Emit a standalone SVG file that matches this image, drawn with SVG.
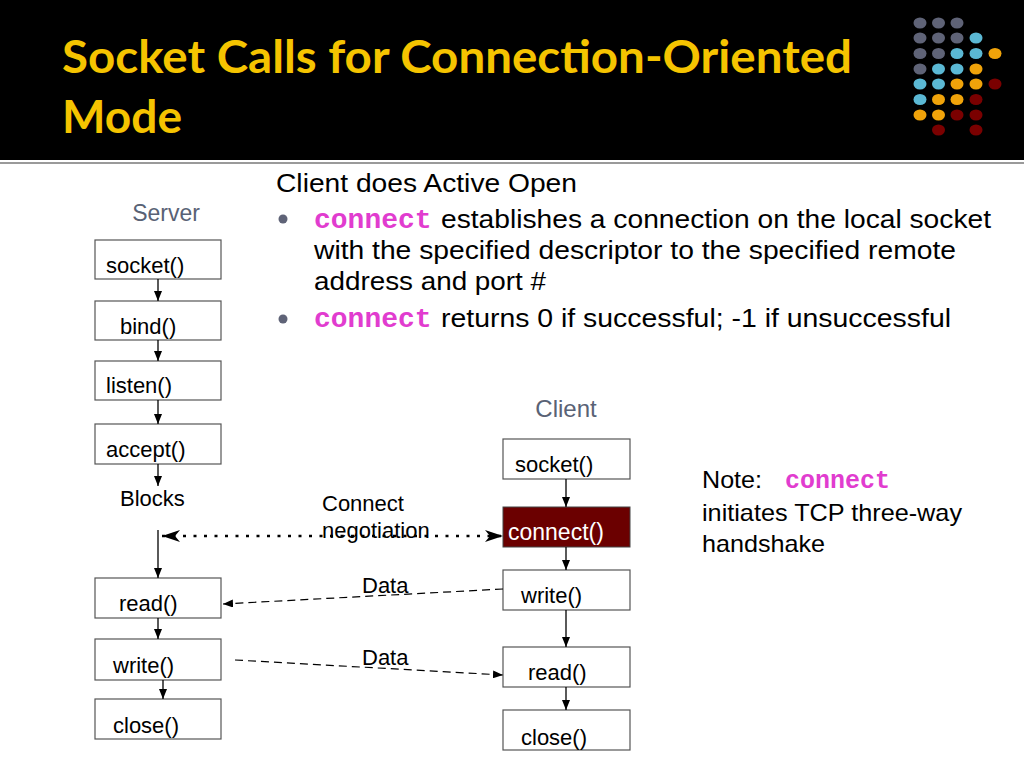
<svg xmlns="http://www.w3.org/2000/svg" width="1024" height="768" viewBox="0 0 1024 768">
<style>
.t{font-family:"Liberation Sans",Arial,sans-serif;fill:#000}
.box{fill:#fff;stroke:#555;stroke-width:1.2}
.lbl{font-family:"Liberation Sans",Arial,sans-serif;font-size:22px;fill:#000}
.mono{font-family:"Liberation Mono","Courier New",monospace;font-weight:bold;fill:#e13ccf}
.solid{stroke:#000;stroke-width:1.3;fill:none;marker-end:url(#ah)}
.dash{stroke:#000;stroke-width:1.2;fill:none;stroke-dasharray:8 5;marker-end:url(#ah)}
.dot{stroke:#000;stroke-width:2.6;fill:none;stroke-dasharray:3 7.5}
.title{font-family:Lato,"Open Sans",sans-serif;font-weight:bold;font-size:46px;fill:#f5c400}
</style>
<defs>
<marker id="ah" markerUnits="userSpaceOnUse" markerWidth="10" markerHeight="8" refX="10" refY="4" orient="auto"><path d="M0,0 L10,4 L0,8 z" fill="#000"/></marker>
<marker id="ab" markerUnits="userSpaceOnUse" markerWidth="18" markerHeight="12" refX="18" refY="6" orient="auto"><path d="M0,0 L18,6 L0,12 L5,6 z" fill="#000"/></marker>
<marker id="abs" markerUnits="userSpaceOnUse" markerWidth="18" markerHeight="12" refX="18" refY="6" orient="auto-start-reverse"><path d="M0,0 L18,6 L0,12 L5,6 z" fill="#000"/></marker>
</defs>
<rect width="1024" height="768" fill="#fff"/>
<g id="header">
<rect x="0" y="0" width="1024" height="160" fill="#000"/>
<line x1="0" y1="163" x2="1024" y2="163" stroke="#9a9a9a" stroke-width="2"/>
<text class="title" x="62" y="73" textLength="790" lengthAdjust="spacingAndGlyphs">Socket Calls for Connection-Oriented</text>
<text class="title" x="62" y="133" textLength="120" lengthAdjust="spacingAndGlyphs">Mode</text>
</g>
<g id="dots">
<g fill="#5f6377">
<ellipse cx="920" cy="23" rx="6.5" ry="5.5"/><ellipse cx="938.5" cy="23" rx="6.5" ry="5.5"/><ellipse cx="957" cy="23" rx="6.5" ry="5.5"/>
<ellipse cx="920" cy="38" rx="6.5" ry="5.5"/><ellipse cx="938.5" cy="38" rx="6.5" ry="5.5"/><ellipse cx="957" cy="38" rx="6.5" ry="5.5"/>
<ellipse cx="920" cy="53.5" rx="6.5" ry="5.5"/><ellipse cx="938.5" cy="53.5" rx="6.5" ry="5.5"/>
<ellipse cx="920" cy="69" rx="6.5" ry="5.5"/>
</g>
<g fill="#5bb8d4">
<ellipse cx="976" cy="38" rx="6.5" ry="5.5"/>
<ellipse cx="957" cy="53.5" rx="6.5" ry="5.5"/><ellipse cx="976" cy="53.5" rx="6.5" ry="5.5"/>
<ellipse cx="938.5" cy="69" rx="6.5" ry="5.5"/><ellipse cx="957" cy="69" rx="6.5" ry="5.5"/>
<ellipse cx="920" cy="84" rx="6.5" ry="5.5"/><ellipse cx="938.5" cy="84" rx="6.5" ry="5.5"/>
<ellipse cx="920" cy="99.5" rx="6.5" ry="5.5"/>
</g>
<g fill="#f0a30a">
<ellipse cx="995" cy="53.5" rx="6.5" ry="5.5"/>
<ellipse cx="976" cy="69" rx="6.5" ry="5.5"/>
<ellipse cx="957" cy="84" rx="6.5" ry="5.5"/><ellipse cx="976" cy="84" rx="6.5" ry="5.5"/>
<ellipse cx="938.5" cy="99.5" rx="6.5" ry="5.5"/><ellipse cx="957" cy="99.5" rx="6.5" ry="5.5"/>
<ellipse cx="920" cy="115" rx="6.5" ry="5.5"/><ellipse cx="938.5" cy="115" rx="6.5" ry="5.5"/>
</g>
<g fill="#7a0000">
<ellipse cx="995" cy="84" rx="6.5" ry="5.5"/>
<ellipse cx="976" cy="99.5" rx="6.5" ry="5.5"/>
<ellipse cx="957" cy="115" rx="6.5" ry="5.5"/><ellipse cx="976" cy="115" rx="6.5" ry="5.5"/>
<ellipse cx="938.5" cy="130" rx="6.5" ry="5.5"/><ellipse cx="976" cy="130" rx="6.5" ry="5.5"/>
</g>
</g>
<g id="body-text">
<text class="t" x="276" y="192" font-size="26" textLength="301" lengthAdjust="spacingAndGlyphs">Client does Active Open</text>
<circle cx="283" cy="219" r="4.5" fill="#5f6377"/>
<text class="mono" x="314" y="228" font-size="28">connect</text>
<text class="t" x="441" y="228" font-size="26" textLength="550" lengthAdjust="spacingAndGlyphs">establishes a connection on the local socket</text>
<text class="t" x="314" y="259" font-size="26" textLength="642" lengthAdjust="spacingAndGlyphs">with the specified descriptor to the specified remote</text>
<text class="t" x="314" y="290" font-size="26" textLength="232" lengthAdjust="spacingAndGlyphs">address and port #</text>
<circle cx="283" cy="319" r="4.5" fill="#5f6377"/>
<text class="mono" x="314" y="327" font-size="28">connect</text>
<text class="t" x="441" y="327" font-size="26" textLength="510" lengthAdjust="spacingAndGlyphs">returns 0 if successful; -1 if unsuccessful</text>
</g>
<g id="note">
<text class="t" x="702" y="488" font-size="24" textLength="60" lengthAdjust="spacingAndGlyphs">Note:</text>
<text class="mono" x="785" y="488" font-size="25">connect</text>
<text class="t" x="702" y="521" font-size="24" textLength="260" lengthAdjust="spacingAndGlyphs">initiates TCP three-way</text>
<text class="t" x="702" y="552" font-size="24" textLength="123" lengthAdjust="spacingAndGlyphs">handshake</text>
</g>
<g id="labels">
<text x="166" y="221" font-family="Liberation Sans,Arial,sans-serif" font-size="23" fill="#596275" text-anchor="middle">Server</text>
<text x="566" y="417" font-family="Liberation Sans,Arial,sans-serif" font-size="24" fill="#596275" text-anchor="middle">Client</text>
<text class="lbl" x="120" y="506">Blocks</text>
<text class="lbl" x="322" y="511">Connect</text>
<text class="lbl" x="322" y="538">negotiation</text>
<text class="lbl" x="362" y="593">Data</text>
<text class="lbl" x="362" y="665">Data</text>
</g>
<g id="s-socket"><rect class="box" x="95" y="240" width="126" height="39"/><text class="lbl" x="106" y="273">socket()</text></g>
<g id="s-bind"><rect class="box" x="95" y="301" width="126" height="39"/><text class="lbl" x="120" y="334">bind()</text></g>
<g id="s-listen"><rect class="box" x="95" y="361" width="126" height="39"/><text class="lbl" x="106" y="393">listen()</text></g>
<g id="s-accept"><rect class="box" x="95" y="424" width="126" height="40"/><text class="lbl" x="106" y="457">accept()</text></g>
<g id="s-read"><rect class="box" x="95" y="578" width="126" height="40"/><text class="lbl" x="119" y="611">read()</text></g>
<g id="s-write"><rect class="box" x="95" y="639" width="126" height="41"/><text class="lbl" x="113" y="673">write()</text></g>
<g id="s-close"><rect class="box" x="95" y="699" width="126" height="40"/><text class="lbl" x="113" y="733">close()</text></g>
<g id="c-socket"><rect class="box" x="503" y="439" width="127" height="40"/><text class="lbl" x="515" y="472">socket()</text></g>
<g id="c-connect"><rect x="503" y="507" width="127" height="40" fill="#6b0000" stroke="#444" stroke-width="1"/><text class="lbl" x="508" y="540" style="fill:#fff;font-size:23px">connect()</text></g>
<g id="c-write"><rect class="box" x="503" y="570" width="127" height="40"/><text class="lbl" x="521" y="603">write()</text></g>
<g id="c-read"><rect class="box" x="503" y="647" width="127" height="40"/><text class="lbl" x="528" y="680">read()</text></g>
<g id="c-close"><rect class="box" x="503" y="710" width="127" height="40"/><text class="lbl" x="521" y="745">close()</text></g>
<g id="connectors">
<line class="solid" x1="158" y1="279" x2="158" y2="301"/>
<line class="solid" x1="158" y1="340" x2="158" y2="361"/>
<line class="solid" x1="158" y1="400" x2="158" y2="424"/>
<line class="solid" x1="158" y1="464" x2="158" y2="486"/>
<line class="solid" x1="158" y1="530" x2="158" y2="578"/>
<line class="solid" x1="158" y1="618" x2="158" y2="639"/>
<line class="solid" x1="163" y1="680" x2="163" y2="699"/>
<line class="solid" x1="566" y1="479" x2="566" y2="507"/>
<line class="solid" x1="566" y1="547" x2="566" y2="570"/>
<line class="solid" x1="566" y1="610" x2="566" y2="647"/>
<line class="solid" x1="566" y1="687" x2="566" y2="710"/>
<line class="dot" x1="162" y1="536" x2="503" y2="536" marker-start="url(#abs)" marker-end="url(#ab)"/>
<line class="dash" x1="503" y1="589" x2="223" y2="604"/>
<line class="dash" x1="235" y1="660" x2="503" y2="675"/>
</g>
</svg>
